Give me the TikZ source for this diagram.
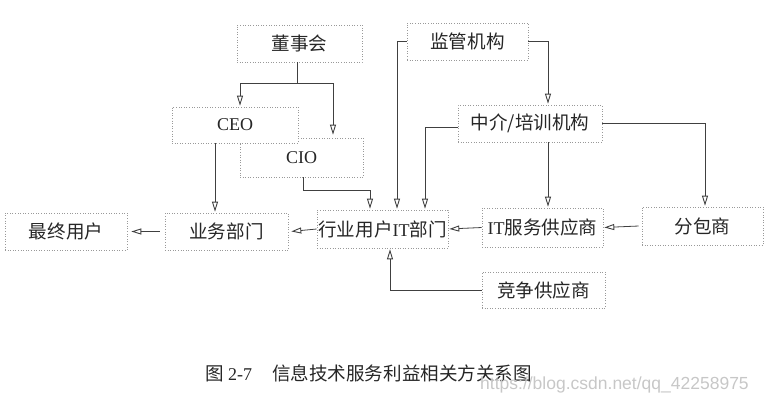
\documentclass[tikz,border=0pt]{standalone}
\usepackage{fontspec}
\setmainfont{Liberation Serif}
\newfontfamily\cjk{Noto Sans CJK SC}[Scale=1.03]
\newfontfamily\wmfont{Liberation Sans}
\usetikzlibrary{arrows.meta}
\begin{document}
\begin{tikzpicture}[x=1pt,y=-1pt,
  box/.style={draw=black!40, dotted, line width=0.6pt, fill=white, inner sep=0pt,
    font=\fontsize{18}{20}\selectfont, text=black!85},
  conn/.style={draw=black!75, line width=0.8pt},
  arr/.style={conn, -{Triangle[open,length=10pt,width=6pt,line width=0.9pt]}, shorten >=1pt}]
\useasboundingbox (0,0) rectangle (773,400);

% boxes
\node[box, minimum width=125pt, minimum height=37pt] (dsh) at (299.5,43.5) {\cjk 董事会};
\node[box, minimum width=121pt, minimum height=37pt] (jg) at (467.5,41.5) {\cjk 监管机构};
\node[box, minimum width=123pt, minimum height=39pt, text depth=0pt] (cio) at (301.5,157.5) {CIO};
\node[box, minimum width=126pt, minimum height=36pt] (ceo) at (235,125) {CEO};
\node[box, minimum width=144pt, minimum height=37pt] (zj) at (530,123.5) {\cjk 中介/培训机构};
\node[box, minimum width=122pt, minimum height=37pt] (zz) at (66,231.5) {\cjk 最终用户};
\node[box, minimum width=123pt, minimum height=37pt] (yw) at (226.5,231.5) {\cjk 业务部门};
\node[box, minimum width=131pt, minimum height=38pt] (hy) at (382.5,229) {{\cjk 行业用户}IT{\cjk 部门}};
\node[box, minimum width=121pt, minimum height=39pt] (its) at (542.5,227.5) {IT{\cjk 服务供应商}};
\node[box, minimum width=121pt, minimum height=38pt] (fb) at (702.5,226) {\cjk 分包商};
\node[box, minimum width=123pt, minimum height=36pt] (jz) at (543.5,290) {\cjk 竞争供应商};

% guide coordinates
\coordinate (xa) at (215,0);
\coordinate (xb) at (240,0);
\coordinate (xc) at (297,0);
\coordinate (xd) at (333,0);
\coordinate (xe) at (303,0);
\coordinate (xf) at (370,0);
\coordinate (xg) at (397,0);
\coordinate (xh) at (425,0);
\coordinate (xi) at (548,0);
\coordinate (xj) at (705,0);
\coordinate (xk) at (390,0);
\coordinate (ya) at (0,83);
\coordinate (yb) at (0,190);
\coordinate (yc) at (0,127);

% connectors
\draw[arr] (xc |- dsh.south) -- (xc |- ya) -| (xb |- ceo.north);
\draw[arr] (xc |- ya) -| ([yshift=2pt]xd |- cio.north);
\draw[arr] (xa |- ceo.south) -- (xa |- yw.north);
\draw[arr] (xe |- cio.south) |- (xf |- yb) -- (xf |- hy.north);
\draw[arr] (jg.west) -| (xg |- hy.north);
\draw[arr] (jg.east) -| (xi |- zj.north);
\draw[arr] (zj.west |- yc) -| (xh |- hy.north);
\draw[arr] (xi |- zj.south) -- (xi |- its.north);
\draw[arr] (zj.east) -| (xj |- fb.north);
\draw[arr] ([xshift=-3pt]fb.west) -- (its.east);
\draw[arr] (its.west) -- (hy.east);
\draw[arr] (hy.west) -- ([xshift=2pt]yw.east);
\draw[arr] ([xshift=-5pt]yw.west) -- ([xshift=3pt]zz.east);
\draw[arr] (jz.west) -| (xk |- hy.south);

% caption
\node[anchor=base west, font=\fontsize{18}{20}\selectfont, text=black!85, inner sep=0pt] (cap) at (205,380)
  {{\cjk 图} 2-7\hspace{20pt}{\cjk 信息技术服务利益相关方关系图}};
\node[anchor=base west, font=\wmfont\fontsize{17.5}{20}\selectfont, text=black!22, inner sep=0pt] (wm) at (480,389)
  {https://blog.csdn.net/qq\_42258975};
\end{tikzpicture}
\end{document}
